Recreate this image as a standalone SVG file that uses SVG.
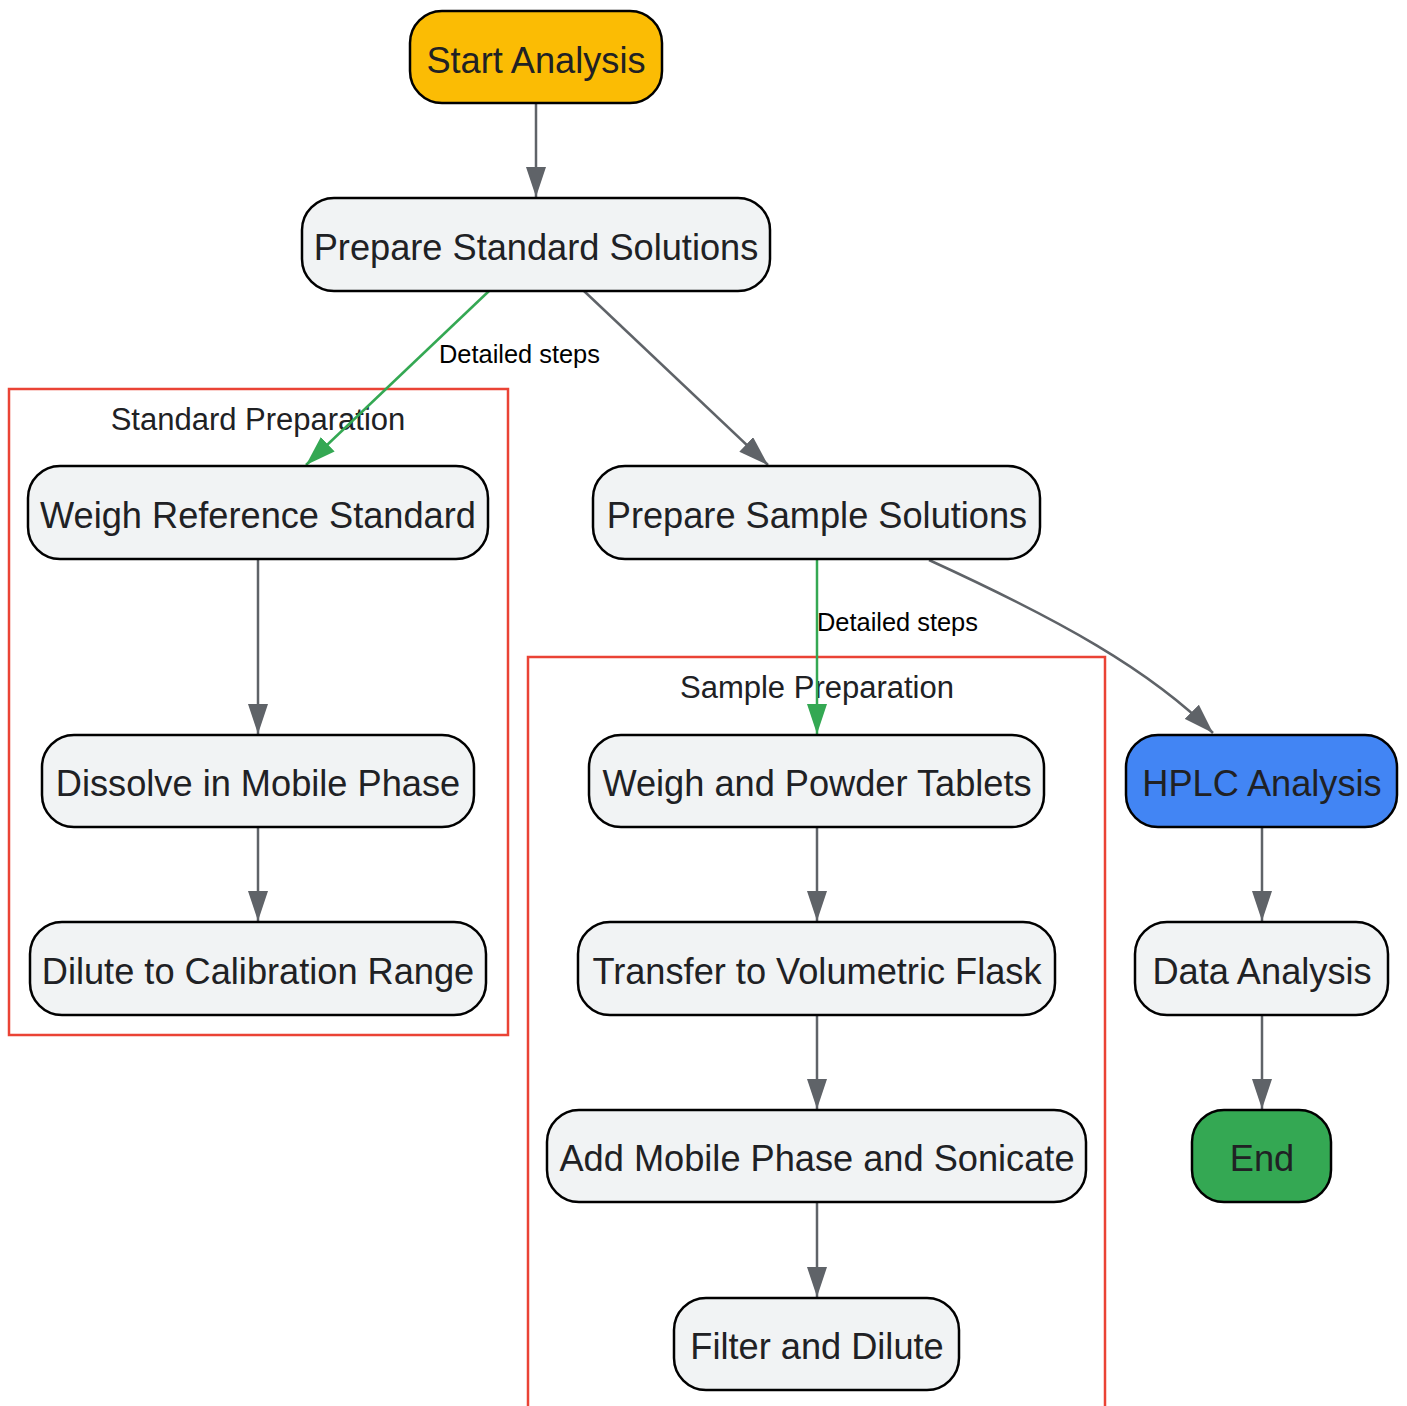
<svg xmlns="http://www.w3.org/2000/svg" width="1407" height="1406" viewBox="0 0 1407 1406">
<style>
.node rect{fill:#f1f3f4;stroke:#000;stroke-width:2.5}
.node text{font-family:"Liberation Sans",Arial,sans-serif;font-size:36.2px;fill:#202124;text-anchor:middle;dominant-baseline:central}
.cluster rect{fill:none;stroke:#ea4335;stroke-width:2.5}
.cluster text{font-family:"Liberation Sans",Arial,sans-serif;font-size:31px;fill:#202124;text-anchor:middle;dominant-baseline:central}
.edge{fill:none;stroke:#5f6368;stroke-width:2.5}
.edge.green{stroke:#34a853}
.elabel{font-family:"Liberation Sans",Arial,sans-serif;font-size:25.4px;fill:#000;dominant-baseline:central}
</style>
<defs>
<marker id="ag" viewBox="0 0 30 20" refX="30" refY="10" markerWidth="30" markerHeight="20" markerUnits="userSpaceOnUse" orient="auto"><path d="M0,0 L30,10 L0,20 z" fill="#5f6368"/></marker>
<marker id="agr" viewBox="0 0 30 20" refX="30" refY="10" markerWidth="30" markerHeight="20" markerUnits="userSpaceOnUse" orient="auto"><path d="M0,0 L30,10 L0,20 z" fill="#34a853"/></marker>
</defs>
<rect width="1407" height="1406" fill="#fff"/>
<g id="clusters">
<g id="cluster-standard" class="cluster"><rect x="9" y="389" width="499" height="646"/><text x="258" y="419">Standard Preparation</text></g>
<g id="cluster-sample" class="cluster"><rect x="528" y="657" width="577" height="760"/><text x="817" y="687">Sample Preparation</text></g>
</g>
<g id="connectors">
<path class="edge" d="M536,103 L536,197" marker-end="url(#ag)"/>
<path class="edge green" d="M489,291 L306,465" marker-end="url(#agr)"/>
<path class="edge" d="M584,291 L768,465" marker-end="url(#ag)"/>
<path class="edge green" d="M817,559 L817,734" marker-end="url(#agr)"/>
<path class="edge" d="M929,560 C1060,620 1150,670 1213,733" marker-end="url(#ag)"/>
<path class="edge" d="M258,559 L258,734" marker-end="url(#ag)"/>
<path class="edge" d="M258,827 L258,921" marker-end="url(#ag)"/>
<path class="edge" d="M817,827 L817,921" marker-end="url(#ag)"/>
<path class="edge" d="M817,1015 L817,1109" marker-end="url(#ag)"/>
<path class="edge" d="M817,1202 L817,1297" marker-end="url(#ag)"/>
<path class="edge" d="M1262,827 L1262,921" marker-end="url(#ag)"/>
<path class="edge" d="M1262,1015 L1262,1109" marker-end="url(#ag)"/>
<text class="elabel" x="439" y="354">Detailed steps</text>
<text class="elabel" x="817" y="622">Detailed steps</text>
</g>
<g id="n-start" class="node"><rect x="410" y="11" width="252" height="92" rx="32" style="fill:#fbbc04"/><text x="536" y="60">Start Analysis</text></g>
<g id="n-prepstd" class="node"><rect x="302" y="198" width="468" height="93" rx="32"/><text x="536" y="247">Prepare Standard Solutions</text></g>
<g id="n-weighref" class="node"><rect x="28" y="466" width="460" height="93" rx="32"/><text x="258" y="515">Weigh Reference Standard</text></g>
<g id="n-dissolve" class="node"><rect x="42" y="735" width="432" height="92" rx="32"/><text x="258" y="783">Dissolve in Mobile Phase</text></g>
<g id="n-dilute" class="node"><rect x="30" y="922" width="456" height="93" rx="32"/><text x="258" y="971">Dilute to Calibration Range</text></g>
<g id="n-prepsample" class="node"><rect x="593" y="466" width="447" height="93" rx="32"/><text x="817" y="515">Prepare Sample Solutions</text></g>
<g id="n-weighpowder" class="node"><rect x="589" y="735" width="455" height="92" rx="32"/><text x="817" y="783">Weigh and Powder Tablets</text></g>
<g id="n-transfer" class="node"><rect x="578" y="922" width="477" height="93" rx="32"/><text x="817" y="971">Transfer to Volumetric Flask</text></g>
<g id="n-add" class="node"><rect x="547" y="1110" width="539" height="92" rx="32"/><text x="817" y="1158">Add Mobile Phase and Sonicate</text></g>
<g id="n-filter" class="node"><rect x="674" y="1298" width="285" height="92" rx="32"/><text x="817" y="1346">Filter and Dilute</text></g>
<g id="n-hplc" class="node"><rect x="1126" y="735" width="271" height="92" rx="32" style="fill:#4285f4"/><text x="1262" y="783">HPLC Analysis</text></g>
<g id="n-data" class="node"><rect x="1135" y="922" width="253" height="93" rx="32"/><text x="1262" y="971">Data Analysis</text></g>
<g id="n-end" class="node"><rect x="1192" y="1110" width="139" height="92" rx="32" style="fill:#34a853"/><text x="1262" y="1158">End</text></g>
</svg>
